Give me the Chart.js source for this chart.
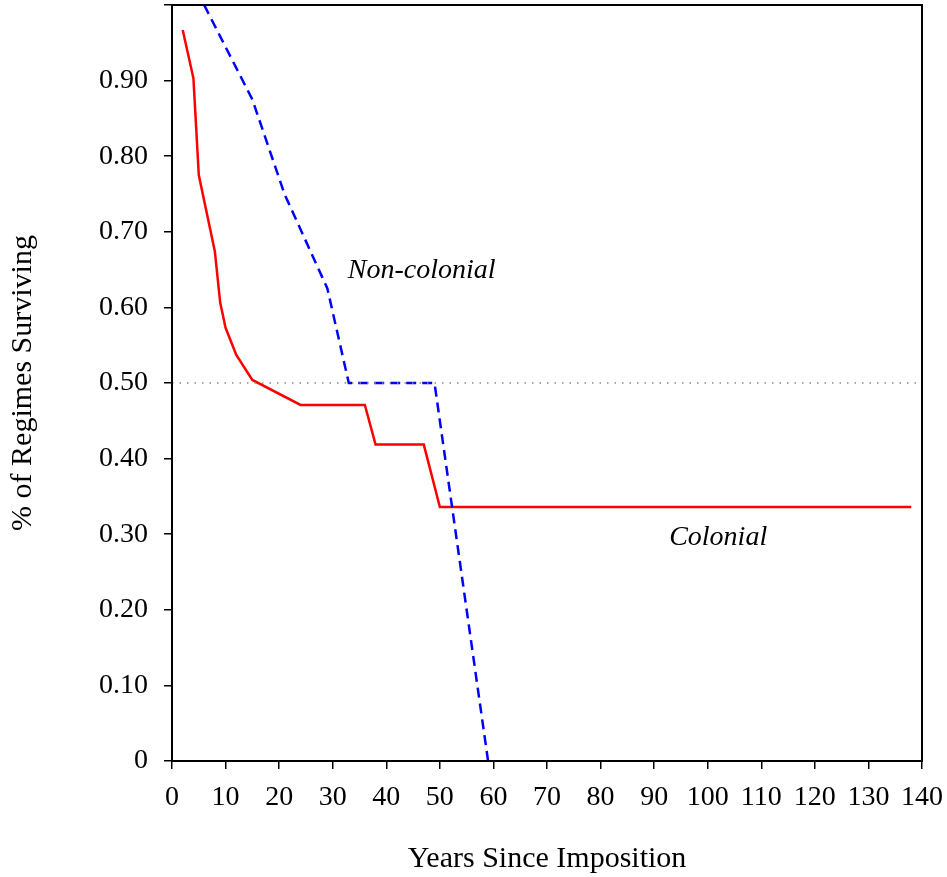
<!DOCTYPE html>
<html>
<head>
<meta charset="utf-8">
<script src="https://cdn.jsdelivr.net/npm/chart.js@4"></script>
<style>
  body { margin: 0; background: #fff; }
  #wrap { width: 947px; height: 877px; }
</style>
</head>
<body>
<div id="wrap"><canvas id="myChart" width="947" height="877"></canvas></div>
<script>
// survival curves
var colonialYears = [2, 4, 5, 8, 9, 10, 12, 15, 24, 36, 38, 47, 50, 138]
var colonialSurv = [0.967, 0.903, 0.775, 0.674, 0.606, 0.573, 0.537, 0.504, 0.471, 0.471, 0.4185, 0.4185, 0.336, 0.336]
var nonColYears = [6, 15, 21, 29, 33, 49, 59]
var nonColSurv = [1.0, 0.875, 0.75, 0.625, 0.5, 0.5, 0]
var refYears = [0, 140]
var refSurv = [0.5, 0.5]
var xTicks = [0, 10, 20, 30, 40, 50, 60, 70, 80, 90, 100, 110, 120, 130, 140]
var yTicks = [0, 0.1, 0.2, 0.3, 0.4, 0.5, 0.6, 0.7, 0.8, 0.9, 1.0]
var curveLabels = [
    { text: 'Non-colonial', x: 32.8, y: 0.639 },
    { text: 'Colonial', x: 92.8, y: 0.286 }
]

function pts(xs, ys) {
    return xs.map((x, i) => ({ x: x, y: ys[i] }))
}

var FONT = "'Liberation Serif', 'Times New Roman', serif"

// frame around the plot + italic curve labels
var framePlugin = {
    id: 'frame',
    afterDatasetsDraw(chart) {
        var ctx = chart.ctx
        var a = chart.chartArea
        var xs = chart.scales.x, ys = chart.scales.y
        ctx.save()
        ctx.strokeStyle = '#000'
        ctx.lineWidth = 2
        ctx.strokeRect(a.left, a.top, a.right - a.left, a.bottom - a.top)
        ctx.fillStyle = '#000'
        ctx.font = 'italic 28px ' + FONT
        ctx.textAlign = 'left'
        ctx.textBaseline = 'alphabetic'
        curveLabels.forEach((l) => {
            ctx.fillText(l.text, xs.getPixelForValue(l.x), ys.getPixelForValue(l.y))
        })
        ctx.restore()
    }
}

var ctx = document.getElementById('myChart').getContext('2d');
var myChart = new Chart(ctx, {
    type: 'line',
    data: {
        datasets: [{
            label: 'Reference',
            data: pts(refYears, refSurv),
            borderColor: '#8c8c8c',
            borderWidth: 1.5,
            borderDash: [1.5, 6],
            pointRadius: 0,
            tension: 0
        }, {
            label: 'Non-colonial',
            data: pts(nonColYears, nonColSurv),
            borderColor: '#0000ff',
            borderWidth: 2.5,
            borderDash: [10, 6],
            pointRadius: 0,
            tension: 0
        }, {
            label: 'Colonial',
            data: pts(colonialYears, colonialSurv),
            borderColor: '#ff0000',
            borderWidth: 2.5,
            pointRadius: 0,
            tension: 0
        }]
    },
    options: {
        responsive: false,
        animation: false,
        layout: { padding: { top: 5, right: 25, left: 0, bottom: 0 } },
        plugins: {
            legend: { display: false },
            tooltip: { enabled: false }
        },
        scales: {
            x: {
                type: 'linear',
                min: 0,
                max: 140,
                afterBuildTicks(axis) {
                    axis.ticks = xTicks.map((v) => ({ value: v }))
                },
                afterFit(axis) {
                    axis.height = 116
                    axis.paddingLeft = 0
                    axis.paddingRight = 0
                },
                grid: { drawOnChartArea: false, drawTicks: true, tickLength: 8, color: '#000', lineWidth: 1.5 },
                border: { display: true, color: '#000', width: 2 },
                ticks: {
                    color: '#000',
                    padding: 12,
                    maxRotation: 0,
                    font: { family: FONT, size: 28 }
                },
                title: {
                    display: true,
                    text: 'Years Since Imposition',
                    color: '#000',
                    padding: { top: 0, bottom: 0 },
                    font: { family: FONT, size: 30 }
                }
            },
            y: {
                type: 'linear',
                min: 0,
                max: 1,
                afterBuildTicks(axis) {
                    axis.ticks = yTicks.map((v) => ({ value: v }))
                },
                afterFit(axis) {
                    axis.width = 172
                    axis.paddingTop = 0
                    axis.paddingBottom = 0
                },
                grid: { drawOnChartArea: false, drawTicks: true, tickLength: 8, color: '#000', lineWidth: 1.5 },
                border: { display: true, color: '#000', width: 2 },
                ticks: {
                    color: '#000',
                    padding: 16,
                    font: { family: FONT, size: 28 },
                    callback: function (v) {
                        if (v === 0) return '0'
                        if (v >= 1) return ''
                        return v.toFixed(2)
                    }
                },
                title: {
                    display: true,
                    text: '% of Regimes Surviving',
                    color: '#000',
                    padding: { top: 5, bottom: 0 },
                    font: { family: FONT, size: 30 }
                }
            }
        }
    },
    plugins: [framePlugin]
});
</script>
</body>
</html>
